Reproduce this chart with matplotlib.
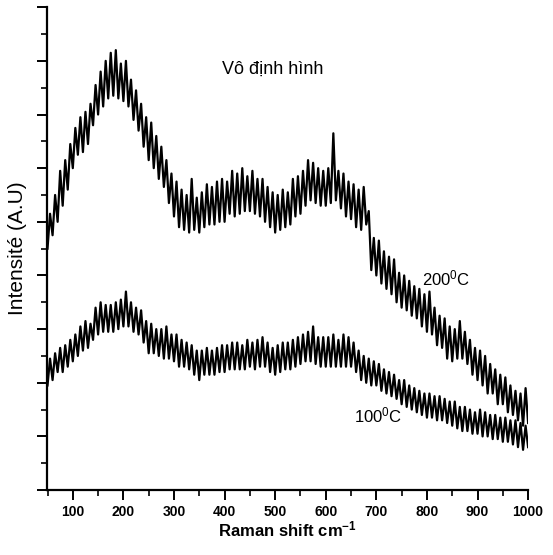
import numpy as np
import matplotlib.pyplot as plt
from matplotlib.ticker import MultipleLocator, NullFormatter

plt.rcParams['font.family'] = ['Liberation Sans', 'DejaVu Sans']
plt.rcParams['mathtext.default'] = 'regular'

# Raman shift grid (cm-1), one value every 5 cm-1 from 50 to 1000
shift = np.arange(50, 1001, 5)

# 200 C spectrum (A.U.), rows of 25 cm-1
i_200 = [
    9.0, 10.3, 9.5, 11.0, 10.0,
    11.9, 10.6, 12.3, 11.2, 12.9,
    12.0, 13.5, 12.5, 13.9, 12.6,
    14.1, 12.9, 14.4, 13.6, 15.1,
    14.0, 15.6, 14.3, 16.0, 14.6,
    16.3, 14.7, 16.4, 14.6, 15.9,
    14.5, 16.0, 14.3, 15.3, 13.8,
    14.9, 13.4, 14.4, 12.8, 13.9,
    12.3, 13.7, 12.0, 13.2, 11.6,
    12.8, 11.3, 12.3, 10.7, 11.8,
    10.2, 11.5, 9.8, 11.2, 9.7,
    11.0, 9.6, 11.6, 9.7, 10.9,
    9.6, 11.1, 9.8, 11.4, 9.9,
    11.3, 9.9, 11.5, 10.0, 11.6,
    10.0, 11.5, 10.3, 11.9, 10.2,
    11.8, 10.3, 12.0, 10.4, 11.7,
    10.4, 11.9, 10.3, 11.6, 10.2,
    11.6, 10.0, 11.3, 9.8, 11.1,
    9.6, 11.0, 9.7, 11.2, 9.8,
    11.1, 9.9, 11.6, 10.2, 11.7,
    10.3, 11.9, 10.6, 12.3, 10.8,
    12.2, 10.7, 12.0, 10.6, 11.9,
    10.6, 12.0, 10.7, 13.3, 10.8,
    11.9, 10.5, 11.8, 10.2, 11.5,
    10.1, 11.4, 9.8, 11.2, 9.7,
    11.3, 9.9, 10.4, 8.2, 9.4,
    8.0, 9.3, 7.7, 8.9, 7.5,
    8.7, 7.3, 8.6, 7.0, 8.1,
    6.8, 8.0, 6.7, 7.8, 6.5,
    7.6, 6.4, 7.5, 6.1, 7.3,
    5.9, 7.4, 5.8, 6.8, 5.4,
    6.5, 5.3, 6.4, 4.9, 6.1,
    4.8, 6.0, 4.9, 6.3, 4.9,
    5.9, 4.7, 5.6, 4.3, 5.3,
    4.1, 5.2, 3.9, 5.0, 3.6,
    4.7, 3.6, 4.5, 3.2, 4.3,
    3.2, 4.2, 2.9, 3.9, 2.8,
    3.7, 2.6, 3.6, 2.4, 3.8,
    2.5,
]

# 100 C spectrum (A.U.)
i_100 = [
    3.9, 4.9, 4.1, 5.1, 4.4,
    5.3, 4.4, 5.4, 4.6, 5.6,
    4.8, 5.8, 5.0, 6.1, 5.2,
    6.3, 5.3, 6.2, 5.6, 6.8,
    5.8, 7.0, 5.9, 6.9, 5.9,
    6.9, 5.9, 7.0, 6.0, 7.1,
    6.1, 7.4, 6.1, 7.0, 5.9,
    6.8, 5.8, 6.7, 5.5, 6.3,
    5.1, 6.2, 5.1, 6.0, 5.0,
    6.0, 4.9, 6.1, 4.9, 5.8,
    4.8, 5.8, 4.6, 5.6, 4.6,
    5.5, 4.5, 5.4, 4.3, 5.2,
    4.1, 5.2, 4.3, 5.3, 4.3,
    5.2, 4.3, 5.3, 4.4, 5.4,
    4.4, 5.4, 4.5, 5.5, 4.5,
    5.5, 4.5, 5.4, 4.5, 5.6,
    4.6, 5.5, 4.5, 5.6, 4.6,
    5.7, 4.6, 5.5, 4.4, 5.3,
    4.3, 5.4, 4.4, 5.5, 4.5,
    5.5, 4.5, 5.6, 4.6, 5.7,
    4.7, 5.8, 4.8, 5.9, 4.8,
    6.1, 4.7, 5.7, 4.6, 5.7,
    4.6, 5.7, 4.6, 5.8, 4.6,
    5.6, 4.6, 5.8, 4.6, 5.7,
    4.6, 5.5, 4.4, 5.2, 4.1,
    5.0, 4.0, 4.9, 3.9, 4.8,
    3.9, 4.7, 3.7, 4.5, 3.6,
    4.4, 3.5, 4.3, 3.4, 4.1,
    3.2, 4.1, 3.1, 3.9, 3.0,
    3.8, 2.9, 3.7, 2.8, 3.6,
    2.7, 3.6, 2.7, 3.5, 2.6,
    3.5, 2.6, 3.4, 2.5, 3.3,
    2.4, 3.3, 2.3, 3.1, 2.2,
    3.1, 2.2, 3.0, 2.1, 2.9,
    2.1, 3.0, 2.0, 2.9, 2.0,
    2.8, 1.9, 2.8, 1.9, 2.7,
    1.8, 2.7, 1.8, 2.6, 1.7,
    2.6, 1.6, 2.5, 1.5, 2.4,
    1.6,
]

fig = plt.figure(figsize=(5.53, 5.55), dpi=100)
ax = fig.add_axes([0.085, 0.117, 0.87, 0.870])

ax.plot(shift, i_200, color='black', lw=1.6)
ax.plot(shift, i_100, color='black', lw=1.6)

ax.set_xlim(49, 1000)
ax.set_ylim(0, 18)
ax.spines['top'].set_visible(False)
ax.spines['right'].set_visible(False)
for s in ['left', 'bottom']:
    ax.spines[s].set_linewidth(1.6)

ax.xaxis.set_major_locator(MultipleLocator(100))
ax.xaxis.set_minor_locator(MultipleLocator(50))
ax.yaxis.set_major_locator(MultipleLocator(2))
ax.yaxis.set_minor_locator(MultipleLocator(1))
ax.yaxis.set_major_formatter(NullFormatter())
ax.tick_params(which='major', direction='out', length=7, width=1.4)
ax.tick_params(which='minor', direction='out', length=4, width=1.2)
ax.tick_params(axis='x', labelsize=10, pad=4)
for lab in ax.get_xticklabels():
    lab.set_fontweight('bold')

ax.set_xlabel('Raman shift cm$^{-1}$', fontsize=12, fontweight='bold', labelpad=0)
ax.set_ylabel('Intensité (A.U)', fontsize=15, labelpad=4)

ax.text(395, 15.7, 'Vô định hình', fontsize=13, ha='left', va='center')
ax.text(790, 7.9, '200$^0$C', fontsize=12, ha='left', va='center')
ax.text(655, 2.8, '100$^0$C', fontsize=12, ha='left', va='center')

fig.savefig('out.png', dpi=100)
